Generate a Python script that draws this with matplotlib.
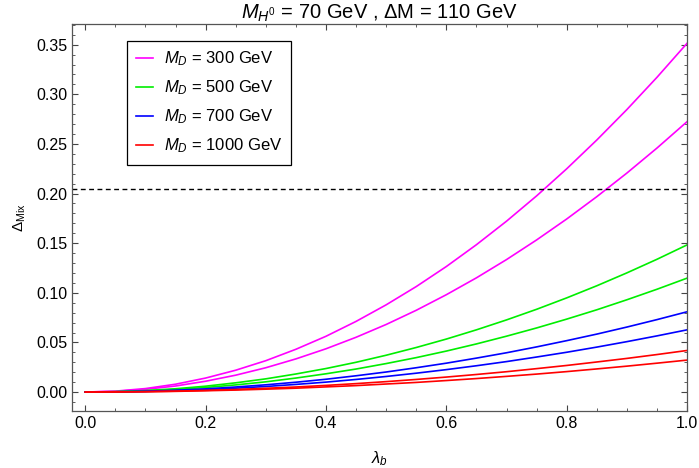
import numpy as np
import matplotlib.pyplot as plt
from matplotlib.ticker import MultipleLocator

plt.rcParams['font.family'] = ['Liberation Sans', 'DejaVu Sans']
plt.rcParams['mathtext.fontset'] = 'custom'
plt.rcParams['mathtext.rm'] = 'Liberation Sans'
plt.rcParams['mathtext.it'] = 'Liberation Sans:italic'

# lambda_b values and Delta_Mix readings (two curves per M_D)
lam = [0.0, 0.05, 0.1, 0.15, 0.2, 0.25, 0.3, 0.35, 0.4, 0.45, 0.5,
       0.55, 0.6, 0.65, 0.7, 0.75, 0.8, 0.85, 0.9, 0.95, 1.0]

md300_hi = [0, 0.0009, 0.0035, 0.0079, 0.0141, 0.0220, 0.0316, 0.0431, 0.0562, 0.0712, 0.0879,
            0.1063, 0.1265, 0.1485, 0.1722, 0.1977, 0.2250, 0.2540, 0.2847, 0.3172, 0.3515]
md300_lo = [0, 0.0007, 0.0027, 0.0061, 0.0109, 0.0170, 0.0245, 0.0334, 0.0436, 0.0552, 0.0681,
            0.0824, 0.0981, 0.1151, 0.1335, 0.1533, 0.1744, 0.1969, 0.2207, 0.2459, 0.2725]
md500_hi = [0, 0.0004, 0.0015, 0.0033, 0.0059, 0.0093, 0.0133, 0.0182, 0.0237, 0.0300, 0.0371,
            0.0449, 0.0534, 0.0627, 0.0727, 0.0834, 0.0949, 0.1071, 0.1201, 0.1338, 0.1483]
md500_lo = [0, 0.0003, 0.0011, 0.0026, 0.0046, 0.0072, 0.0103, 0.0141, 0.0184, 0.0232, 0.0287,
            0.0347, 0.0413, 0.0485, 0.0563, 0.0646, 0.0735, 0.0829, 0.0930, 0.1036, 0.1148]
md700_hi = [0, 0.0002, 0.0008, 0.0018, 0.0032, 0.0051, 0.0073, 0.0099, 0.0129, 0.0164, 0.0202,
            0.0245, 0.0291, 0.0342, 0.0396, 0.0455, 0.0518, 0.0584, 0.0655, 0.0730, 0.0809]
md700_lo = [0, 0.0002, 0.0006, 0.0014, 0.0025, 0.0039, 0.0056, 0.0077, 0.0100, 0.0127, 0.0157,
            0.0190, 0.0226, 0.0265, 0.0307, 0.0353, 0.0401, 0.0453, 0.0508, 0.0566, 0.0627]
md1000_hi = [0, 0.0001, 0.0004, 0.0009, 0.0017, 0.0026, 0.0038, 0.0051, 0.0067, 0.0085, 0.0105,
             0.0127, 0.0151, 0.0177, 0.0205, 0.0236, 0.0268, 0.0303, 0.0339, 0.0378, 0.0419]
md1000_lo = [0, 0.0001, 0.0003, 0.0007, 0.0013, 0.0020, 0.0029, 0.0039, 0.0052, 0.0065, 0.0081,
             0.0097, 0.0116, 0.0136, 0.0158, 0.0181, 0.0206, 0.0233, 0.0261, 0.0291, 0.0322]

limit = 0.205

series = [
    ("300", "#ff00ff", md300_hi, md300_lo),
    ("500", "#00ee00", md500_hi, md500_lo),
    ("700", "#0000ff", md700_hi, md700_lo),
    ("1000", "#ff0000", md1000_hi, md1000_lo),
]

fig = plt.figure(figsize=(6.99, 4.68), dpi=100)
ax = fig.add_axes([0.103, 0.122, 0.880, 0.827])

for mass, col, hi, lo in series:
    ax.plot(lam, hi, color=col, lw=1.2, label=r"$M_D$ = %s GeV" % mass)
    ax.plot(lam, lo, color=col, lw=1.2)

ax.axhline(limit, color="black", lw=1.0, ls=(0, (3.5, 2.5)))

ax.set_xlim(-0.022, 1.0)
ax.set_ylim(-0.019, 0.371)
ax.xaxis.set_major_locator(MultipleLocator(0.2))
ax.xaxis.set_minor_locator(MultipleLocator(0.05))
ax.yaxis.set_major_locator(MultipleLocator(0.05))
ax.yaxis.set_minor_locator(MultipleLocator(0.01))
ax.xaxis.set_major_formatter(plt.FuncFormatter(lambda v, p: "%.1f" % v))
ax.yaxis.set_major_formatter(plt.FuncFormatter(lambda v, p: "%.2f" % v))
ax.tick_params(which="both", direction="in", top=True, right=True, colors="#444444",
               labelcolor="black", labelsize=11.5)
ax.tick_params(which="major", length=4, width=0.8)
ax.tick_params(which="minor", length=2, width=0.6)
for s in ax.spines.values():
    s.set_color("#555555")
    s.set_linewidth(0.9)

ax.set_title(r"$M_{H^0}$ = 70 GeV , ΔM = 110 GeV", fontsize=14.5, pad=3)
ax.set_xlabel(r"$\lambda_b$", fontsize=12, labelpad=13)
ax.set_ylabel(r"$\Delta_{\rm Mix}$", fontsize=11, labelpad=6)

leg = ax.legend(loc="upper left", bbox_to_anchor=(0.0894, 0.957), borderaxespad=0,
                fontsize=12, handlelength=1.0, handletextpad=0.65, labelspacing=0.62,
                borderpad=0.55, fancybox=False, framealpha=1)
leg.get_frame().set_edgecolor("black")
leg.get_frame().set_linewidth(0.9)

fig.savefig("out.png", dpi=100)
